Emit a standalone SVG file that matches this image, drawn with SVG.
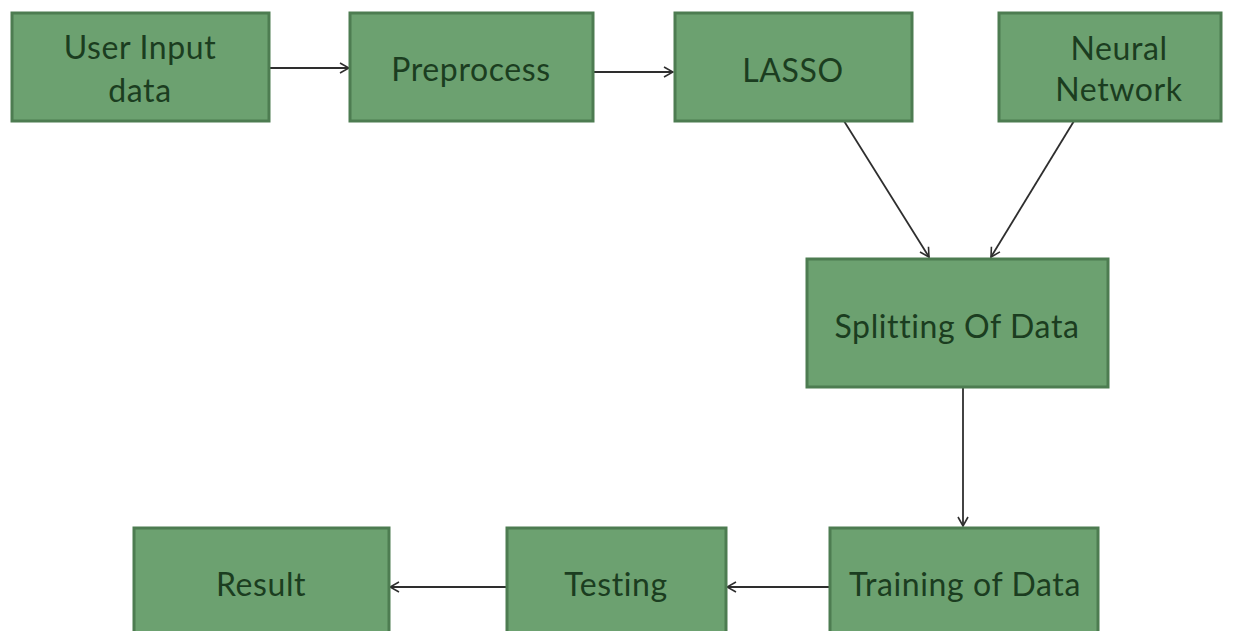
<svg xmlns="http://www.w3.org/2000/svg" width="1235" height="631" viewBox="0 0 1235 631">
<defs>
<style>
.box{fill:#6ca170;stroke:#4d7c51;stroke-width:3}
.lbl{font-family:Lato,"Open Sans","Liberation Sans",sans-serif;font-size:32px;letter-spacing:0.6px;fill:#1b3d20;text-anchor:middle}
.edge{stroke:#2e2e2e;stroke-width:1.8;fill:none;marker-end:url(#arr)}
</style>
<marker id="arr" viewBox="0 0 12 12" refX="11" refY="6" markerWidth="12" markerHeight="12" markerUnits="userSpaceOnUse" orient="auto">
<path d="M2,1 L11,6 L2,11" fill="none" stroke="#2e2e2e" stroke-width="1.6"/>
</marker>
</defs>
<rect width="1235" height="631" fill="#ffffff"/>
<g id="connectors">
<line class="edge" x1="270" y1="68" x2="349" y2="68"/>
<line class="edge" x1="593" y1="72" x2="673" y2="72"/>
<line class="edge" x1="844" y1="121" x2="929" y2="257"/>
<line class="edge" x1="1074" y1="121" x2="991" y2="257"/>
<line class="edge" x1="963" y1="388" x2="963" y2="526"/>
<line class="edge" x1="829" y1="587" x2="727" y2="587"/>
<line class="edge" x1="506" y1="587" x2="390" y2="587"/>
</g>
<g id="node-user-input">
<rect class="box" x="12" y="13" width="257" height="108"/>
<text class="lbl" x="140" y="59">User Input</text>
<text class="lbl" x="140" y="102">data</text>
</g>
<g id="node-preprocess">
<rect class="box" x="350" y="13" width="243" height="108"/>
<text class="lbl" x="471" y="81">Preprocess</text>
</g>
<g id="node-lasso">
<rect class="box" x="675" y="13" width="237" height="108"/>
<text class="lbl" x="793" y="82">LASSO</text>
</g>
<g id="node-neural">
<rect class="box" x="999" y="13" width="222" height="108"/>
<text class="lbl" x="1119" y="60">Neural</text>
<text class="lbl" x="1119" y="101">Network</text>
</g>
<g id="node-splitting">
<rect class="box" x="807" y="259" width="301" height="128"/>
<text class="lbl" x="957" y="338">Splitting Of Data</text>
</g>
<g id="node-training">
<rect class="box" x="830" y="528" width="268" height="110"/>
<text class="lbl" x="965" y="596">Training of Data</text>
</g>
<g id="node-testing">
<rect class="box" x="507" y="528" width="219" height="110"/>
<text class="lbl" x="616" y="596">Testing</text>
</g>
<g id="node-result">
<rect class="box" x="134" y="528" width="255" height="110"/>
<text class="lbl" x="261" y="596">Result</text>
</g>
</svg>
